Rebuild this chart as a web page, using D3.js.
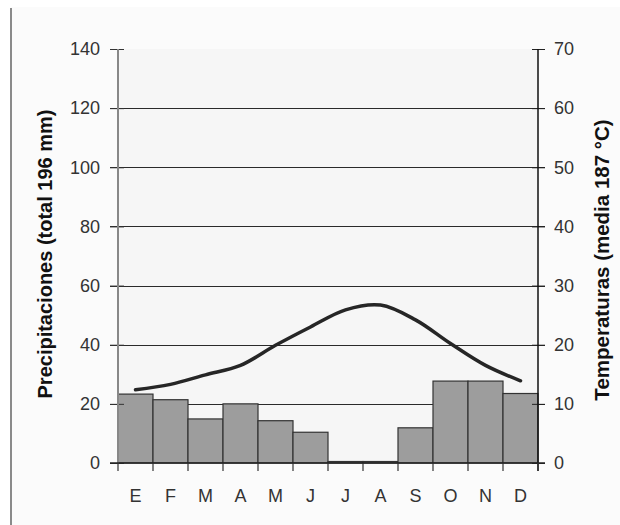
<!DOCTYPE html>
<html><head><meta charset="utf-8">
<script src="https://cdn.jsdelivr.net/npm/d3@7"></script>
<style>
html,body{margin:0;padding:0;background:#fff;}
svg{display:block;}
text{font-family:"Liberation Sans",Arial,sans-serif;}
</style></head>
<body>
<svg id="chart" width="620" height="525"></svg>
<script>
const months = ["E","F","M","A","M","J","J","A","S","O","N","D"];
const precipitation = [23.3, 21.4, 14.9, 20, 14.3, 10.4, 0.5, 0.5, 11.9, 27.7, 27.7, 23.5];
const temperature = [12.4, 13.3, 14.9, 16.5, 19.9, 23.0, 25.9, 26.7, 24.2, 20.2, 16.5, 13.9];
const precipTicks = [0, 20, 40, 60, 80, 100, 120, 140];
const tempTicks = [0, 10, 20, 30, 40, 50, 60, 70];
const leftTitle = "Precipitaciones (total 196 mm)";
const rightTitle = "Temperaturas (media 187 °C)";

const svg = d3.select("#chart");
const L = 118, R = 538, T = 49, B = 463;
const idx = months.map((m, i) => i);
const x = d3.scaleBand().domain(idx).range([L, R]).padding(0);
const yP = d3.scaleLinear().domain([0, 140]).range([B, T]);
const yT = d3.scaleLinear().domain([0, 70]).range([B, T]);

// outer faint background and left border line
svg.append("rect").attr("x", 11).attr("y", 7).attr("width", 609).attr("height", 518).attr("fill", "#fbfbfb");
svg.append("line").attr("x1", 11).attr("x2", 11).attr("y1", 8).attr("y2", 525)
  .attr("stroke", "#8a8a8a").attr("stroke-width", 2);

// plot area
svg.append("rect").attr("x", L).attr("y", T).attr("width", R - L).attr("height", B - T).attr("fill", "#f6f6f6");

// gridlines
svg.append("g").selectAll("line").data(precipTicks.filter(d => d > 0 && d < 140)).join("line")
  .attr("x1", L - 8).attr("x2", R + 7)
  .attr("y1", d => Math.round(yP(d)) + 0.5).attr("y2", d => Math.round(yP(d)) + 0.5)
  .attr("stroke", "#2a2a2a").attr("stroke-width", 1.2);

// bars
svg.append("g").selectAll("rect").data(precipitation).join("rect")
  .attr("x", (d, i) => x(i)).attr("width", x.bandwidth())
  .attr("y", d => yP(d)).attr("height", d => B - yP(d))
  .attr("fill", "#9d9d9d").attr("stroke", "#333").attr("stroke-width", 1.2);

// left axis
const gL = svg.append("g").attr("transform", `translate(${L},0)`);
gL.call(d3.axisLeft(yP).tickValues(precipTicks).tickSize(8).tickPadding(10).tickFormat(d3.format("d")));
gL.select(".domain").remove();
gL.selectAll(".tick line").attr("stroke", "#333").attr("x2", -8).attr("x1", 6);
gL.append("line").attr("x1", 0).attr("x2", 0).attr("y1", T).attr("y2", B).attr("stroke", "#888").attr("stroke-width", 2);
gL.selectAll(".tick text").attr("font-size", 18).attr("fill", "#333").attr("x", -18).attr("font-family", "'Liberation Sans',Arial,sans-serif");

// right axis
const gR = svg.append("g").attr("transform", `translate(${R},0)`);
gR.call(d3.axisRight(yT).tickValues(tempTicks).tickSize(7).tickPadding(10).tickFormat(d3.format("d")));
gR.select(".domain").remove();
gR.selectAll(".tick line").attr("stroke", "#222").attr("x1", -6).attr("x2", 7);
gR.append("line").attr("x1", 0).attr("x2", 0).attr("y1", T).attr("y2", B + 8).attr("stroke", "#111").attr("stroke-width", 1.5);
gR.selectAll(".tick text").attr("font-size", 18).attr("fill", "#333").attr("x", 16).attr("font-family", "'Liberation Sans',Arial,sans-serif");

// bottom axis line and month ticks
svg.append("line").attr("x1", L - 8).attr("x2", R + 7).attr("y1", B).attr("y2", B).attr("stroke", "#222").attr("stroke-width", 1.5);
const bounds = idx.map(i => x(i)).concat([R]);
svg.append("g").selectAll("line").data(bounds).join("line")
  .attr("x1", d => d).attr("x2", d => d).attr("y1", B).attr("y2", B + 8)
  .attr("stroke", "#333").attr("stroke-width", 1.2);
svg.append("g").selectAll("text").data(months).join("text")
  .attr("x", (d, i) => x(i) + x.bandwidth() / 2).attr("y", 502)
  .attr("text-anchor", "middle").attr("font-size", 18).attr("fill", "#333")
  .text(d => d);

// temperature line
const line = d3.line()
  .x((d, i) => x(i) + x.bandwidth() / 2)
  .y(d => yT(d))
  .curve(d3.curveCatmullRom.alpha(0.5));
svg.append("path").datum(temperature).attr("d", line)
  .attr("fill", "none").attr("stroke", "#262626").attr("stroke-width", 3.5).attr("stroke-linecap", "round");

// titles
svg.append("text").attr("transform", "translate(45,254) rotate(-90)")
  .attr("text-anchor", "middle").attr("dominant-baseline", "central")
  .attr("font-size", 20).attr("font-weight", "bold").attr("fill", "#111").text(leftTitle);
svg.append("text").attr("transform", "translate(601,260) rotate(-90)")
  .attr("text-anchor", "middle").attr("dominant-baseline", "central")
  .attr("font-size", 20.5).attr("font-weight", "bold").attr("fill", "#111").text(rightTitle);
</script>
</body></html>
